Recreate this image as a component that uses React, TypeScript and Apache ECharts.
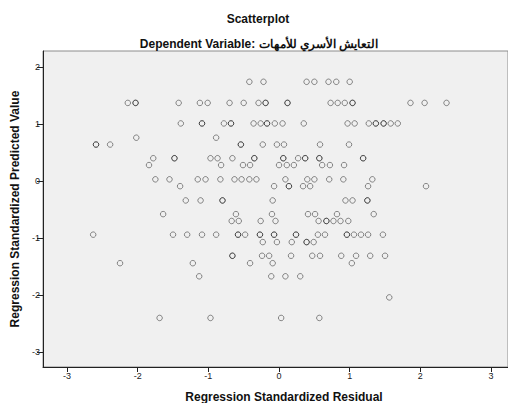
import React, { useEffect, useRef } from "react";
import * as echarts from "echarts";

const titleText = "Scatterplot";
const subtitleText = "Dependent Variable: التعايش الأسري للأمهات";
const xAxisTitle = "Regression Standardized Residual";
const yAxisTitle = "Regression Standardized Predicted Value";

const xTicks = [-3, -2, -1, 0, 1, 2, 3];
const yTicks = [-3, -2, -1, 0, 1, 2];

const predictedLevels = [
  1.74, 1.37, 1.01, 0.76, 0.64, 0.4, 0.28, 0.03, -0.09, -0.34, -0.58, -0.7,
  -0.94, -1.07, -1.31, -1.44, -1.67, -2.04, -2.4,
];

const residualsByLevel: number[][] = [
  [-0.42, -0.22, 0.39, 0.5, 0.7, 0.81, 1.0],
  [-2.14, -2.03, -2.03, -1.42, -1.12, -1.01, -0.7, -0.5, -0.29, -0.19, -0.19, 0.12, 0.12, 0.73, 0.83, 0.93, 1.04, 1.04, 1.86, 2.06, 2.37],
  [-1.39, -1.09, -1.09, -0.78, -0.68, -0.68, -0.36, -0.26, -0.17, -0.17, -0.06, 0.05, 0.35, 0.97, 1.07, 1.27, 1.37, 1.37, 1.48, 1.48, 1.58, 1.68],
  [-2.02, -0.89],
  [-2.59, -2.59, -2.39, -0.54, -0.54, -0.23, -0.03, 0.07, 0.58, 0.99],
  [-1.78, -1.48, -1.48, -0.97, -0.87, -0.66, -0.35, -0.35, 0.06, 0.06, 0.27, 0.37, 0.37, 0.57, 0.57, 1.19, 1.19],
  [-1.84, -0.82, -0.51, -0.41, 0.0, 0.11, 0.21, 0.61, 0.72, 0.92],
  [-1.75, -1.55, -1.15, -1.04, -0.83, -0.63, -0.53, -0.42, -0.32, 0.09, 0.4, 0.5, 0.71, 0.91, 1.32],
  [-1.4, -0.07, 0.14, 0.14, 0.34, 0.44, 1.26, 2.08],
  [-1.32, -1.11, -0.8, -0.8, -0.09, 0.94, 1.04, 1.25, 1.25],
  [-1.64, -0.61, -0.1, 0.41, 0.51, 0.82, 1.34],
  [-0.67, -0.57, -0.26, -0.05, 0.56, 0.67, 0.67, 0.77, 0.87, 0.98],
  [-2.63, -1.5, -1.3, -1.09, -0.89, -0.58, -0.58, -0.48, -0.27, -0.27, -0.07, -0.07, 0.24, 0.24, 0.55, 0.65, 0.96, 0.96, 1.06, 1.16, 1.26, 1.47],
  [-0.23, -0.03, 0.18, 0.39, 0.39, 0.49],
  [-0.66, -0.66, -0.24, -0.14, 0.17, 0.47, 0.58, 0.88, 1.09, 1.29, 1.5],
  [-2.25, -1.22, -0.41, -0.09, 1.03],
  [-1.13, -0.11, 0.09, 0.3],
  [1.56],
  [-1.69, -0.97, 0.03, 0.57],
];

const FONT = "'Liberation Sans', Arial, sans-serif";

export default function App() {
  const ref = useRef<HTMLDivElement>(null);

  useEffect(() => {
    if (!ref.current) return;
    const chart = echarts.init(ref.current, null, { renderer: "svg" });

    const points: number[][] = [];
    predictedLevels.forEach((y, i) => {
      residualsByLevel[i].forEach((x) => points.push([x, y]));
    });

    chart.setOption({
      animation: false,
      backgroundColor: "#ffffff",
      textStyle: { fontFamily: FONT },
      grid: {
        left: 43,
        right: 0,
        top: 51,
        bottom: 36,
        show: true,
        backgroundColor: "#f0f0f0",
        borderColor: "#8c8c8c",
        borderWidth: 1,
      },
      xAxis: {
        type: "value",
        min: -3.34,
        max: 3.24,
        axisLine: { show: true, onZero: false, lineStyle: { color: "#222", width: 1 } },
        axisTick: {
          show: true,
          length: 5,
          customValues: xTicks,
          lineStyle: { color: "#222" },
        },
        axisLabel: {
          customValues: xTicks,
          color: "#222",
          fontSize: 9,
          margin: 4,
          fontFamily: FONT,
        },
        splitLine: { show: false },
      },
      yAxis: {
        type: "value",
        min: -3.26,
        max: 2.28,
        axisLine: { show: true, onZero: false, lineStyle: { color: "#222", width: 1 } },
        axisTick: {
          show: true,
          length: 6,
          customValues: yTicks,
          lineStyle: { color: "#222" },
        },
        axisLabel: {
          customValues: yTicks,
          color: "#222",
          fontSize: 9,
          margin: 3,
          fontFamily: FONT,
        },
        splitLine: { show: false },
      },
      graphic: [
        {
          type: "text",
          x: 258,
          y: 19,
          style: {
            text: titleText,
            font: `bold 12px ${FONT}`,
            fill: "#111",
            align: "center",
            verticalAlign: "middle",
          },
        },
        {
          type: "text",
          x: 259,
          y: 44,
          style: {
            text: subtitleText,
            font: `bold 12px ${FONT}`,
            fill: "#111",
            align: "center",
            verticalAlign: "middle",
          },
        },
        {
          type: "text",
          x: 284,
          y: 397,
          style: {
            text: xAxisTitle,
            font: `bold 12px ${FONT}`,
            fill: "#111",
            align: "center",
            verticalAlign: "middle",
          },
        },
        {
          type: "text",
          x: 15,
          y: 209,
          rotation: Math.PI / 2,
          style: {
            text: yAxisTitle,
            font: `bold 12px ${FONT}`,
            fill: "#111",
            align: "center",
            verticalAlign: "middle",
          },
        },
      ],
      series: [
        {
          type: "scatter",
          data: points,
          symbol: "circle",
          symbolSize: 5.5,
          itemStyle: {
            color: "rgba(0,0,0,0)",
            borderColor: "rgba(0,0,0,0.55)",
            borderWidth: 1,
          },
          emphasis: { disabled: true },
        },
      ],
    });

    return () => chart.dispose();
  }, []);

  return (
    <div
      ref={ref}
      style={{ position: "fixed", left: 0, top: 0, width: 508, height: 403 }}
    />
  );
}
